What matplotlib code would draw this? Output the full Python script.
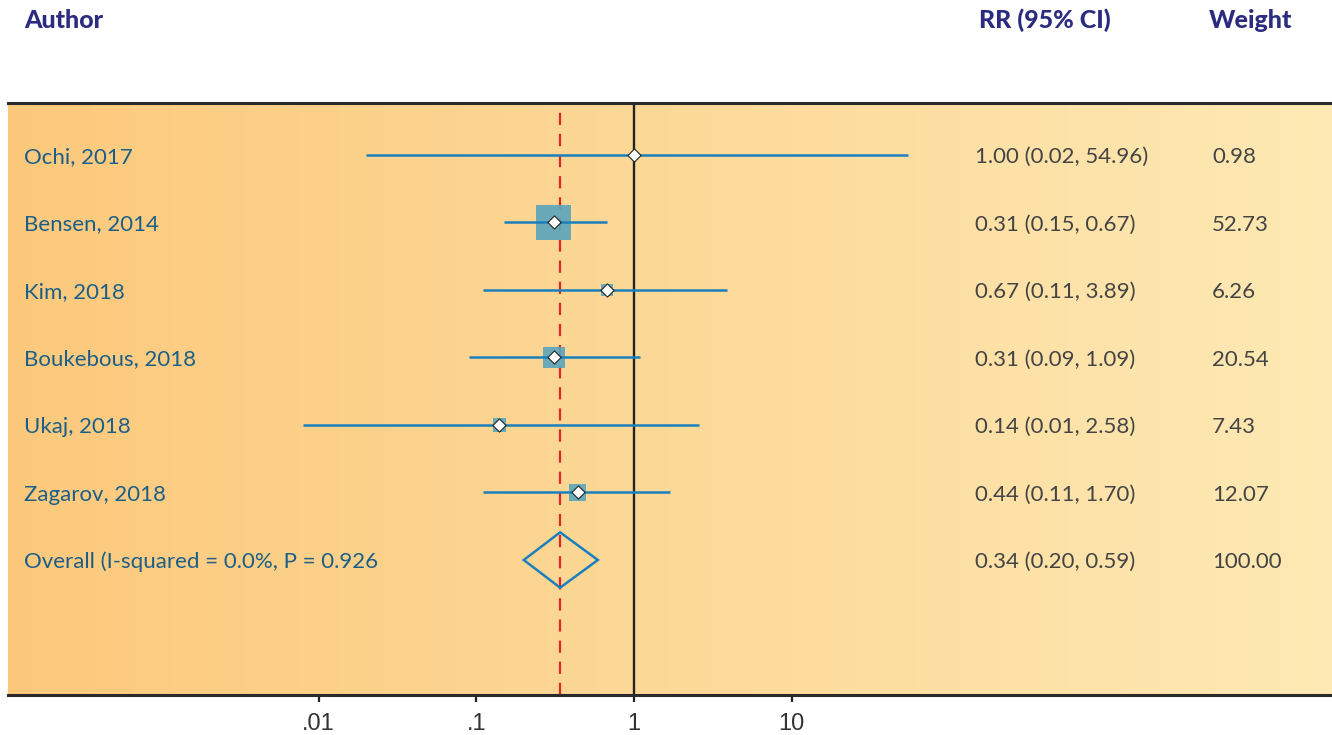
import matplotlib.pyplot as plt
import matplotlib.transforms as mtransforms
import numpy as np
from matplotlib.patches import Polygon

# study data
authors = ["Ochi, 2017", "Bensen, 2014", "Kim, 2018", "Boukebous, 2018",
           "Ukaj, 2018", "Zagarov, 2018"]
rr = [1.00, 0.31, 0.67, 0.31, 0.14, 0.44]
ci_low = [0.02, 0.15, 0.11, 0.09, 0.008, 0.11]
ci_high = [54.96, 0.67, 3.89, 1.09, 2.58, 1.70]
rr_labels = ["1.00 (0.02, 54.96)", "0.31 (0.15, 0.67)", "0.67 (0.11, 3.89)",
             "0.31 (0.09, 1.09)", "0.14 (0.01, 2.58)", "0.44 (0.11, 1.70)"]
weights = [0.98, 52.73, 6.26, 20.54, 7.43, 12.07]

overall_label = "Overall (I-squared = 0.0%, P = 0.926"
overall_rr = 0.34
overall_low = 0.20
overall_high = 0.59
overall_text = "0.34 (0.20, 0.59)"
overall_weight = "100.00"

tick_vals = [0.01, 0.1, 1, 10]
tick_labels = [".01", ".1", "1", "10"]

W, H = 1332, 735
fig = plt.figure(figsize=(W / 100, H / 100), dpi=100)
ax = fig.add_axes([8 / W, (H - 695) / H, 1 - 8 / W, (695 - 103) / H])

px_dec = 157.7
x0 = 10 ** ((8 - 634) / px_dec)
x1 = 10 ** ((1332 - 634) / px_dec)
ax.set_xscale("log")
ax.set_xlim(x0, x1)
ax.set_ylim(8.0, -0.77)

# background gradient
c_left = np.array([252, 201, 124]) / 255
c_right = np.array([254, 233, 180]) / 255
t = np.linspace(0, 1, 256)[None, :, None]
grad = c_left * (1 - t) + c_right * t
ax.imshow(grad, aspect="auto", extent=[0, 1, 0, 1], transform=ax.transAxes, zorder=0)

# reference lines
ax.axvline(1, color="#222222", lw=1.7, zorder=2)
ax.axvline(overall_rr, color="#e8232a", lw=1.6, ls=(0, (5.5, 4)), zorder=2)

blue = "#1a80bd"
ys = np.arange(len(authors))
ax.scatter(rr, ys, s=[12 * w for w in weights], marker="s", color="#5aa5bd",
           alpha=0.9, lw=0, zorder=3)
ax.hlines(ys, ci_low, ci_high, color=blue, lw=1.8, zorder=4)
ax.scatter(rr, ys, s=45, marker="D", facecolor="white", edgecolor="#222222",
           lw=0.8, zorder=5)

# overall diamond
yo = len(authors)
dia = Polygon([[overall_low, yo], [overall_rr, yo - 0.41], [overall_high, yo],
               [overall_rr, yo + 0.41]], closed=True, fill=False,
              edgecolor=blue, lw=1.8, zorder=4)
ax.add_patch(dia)

# axes styling
for side in ["left", "right"]:
    ax.spines[side].set_visible(False)
for side in ["top", "bottom"]:
    ax.spines[side].set_color("#2a2a2a")
    ax.spines[side].set_linewidth(2.2)
    ax.spines[side].set_zorder(6)
ax.set_yticks([])
ax.set_xticks(tick_vals)
ax.set_xticklabels(tick_labels)
ax.minorticks_off()
ax.tick_params(axis="x", length=5, width=1.6, color="#222222", pad=8,
               labelsize=17, labelcolor="#333333")
for lab in ax.get_xticklabels():
    lab.set_fontfamily("Liberation Sans")

# text columns (baseline a bit below row centre)
tr = mtransforms.blended_transform_factory(fig.transFigure, ax.transData)
name_col = "#1b5f88"
num_col = "#444444"
fs = 16
dy = 0.12
rows = list(zip(authors, rr_labels, [f"{w:.2f}" for w in weights]))
rows.append((overall_label, overall_text, overall_weight))
for i, (name, rtxt, wtxt) in enumerate(rows):
    ax.text(24 / W, i + dy, name, transform=tr, ha="left", va="baseline",
            fontsize=fs, color=name_col, family="Lato")
    ax.text(975 / W, i + dy, rtxt, transform=tr, ha="left", va="baseline",
            fontsize=fs, color=num_col, family="Lato")
    ax.text(1212 / W, i + dy, wtxt, transform=tr, ha="left", va="baseline",
            fontsize=fs, color=num_col, family="Lato")

# headers
hdr = "#2b2c80"
for hx, htxt in [(24, "Author"), (979, "RR (95% CI)"), (1209, "Weight")]:
    fig.text(hx / W, 1 - 28 / H, htxt, ha="left", va="baseline",
             fontsize=18, fontweight="black", color=hdr, family="Lato")

fig.savefig("out.png", dpi=100)
